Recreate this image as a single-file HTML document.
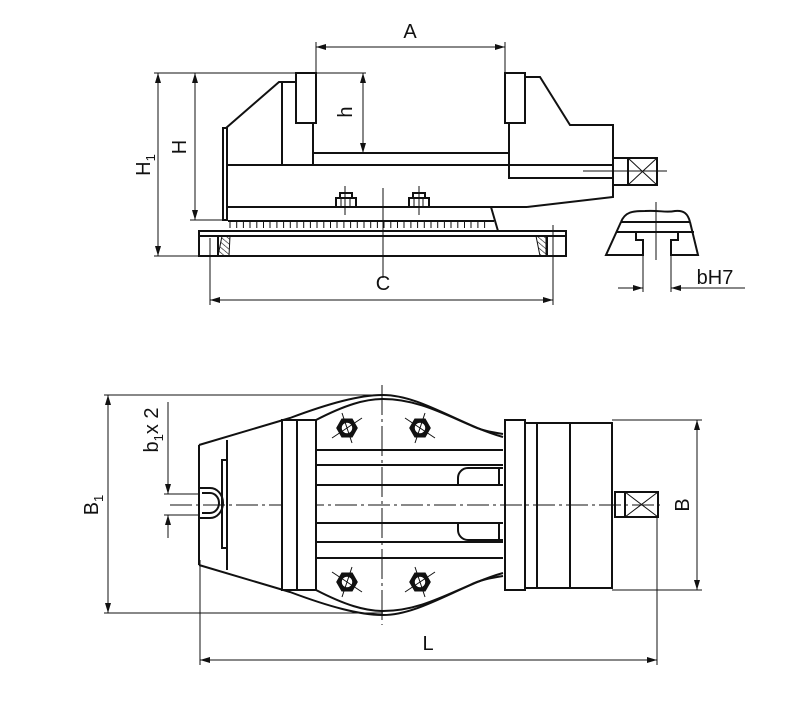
<!DOCTYPE html>
<html><head><meta charset="utf-8"><style>
html,body{margin:0;padding:0;background:#fff;}
svg{display:block;}
text{font-family:"Liberation Sans",sans-serif;fill:#111;}
</style></head><body>
<svg width="800" height="710" viewBox="0 0 800 710" xmlns="http://www.w3.org/2000/svg">
<defs>
<marker id="ar" viewBox="0 0 10 6" refX="10" refY="3" markerWidth="10" markerHeight="6" orient="auto-start-reverse" markerUnits="userSpaceOnUse">
<path d="M0,0 L10,3 L0,6 z" fill="#111"/></marker>
<pattern id="hat" width="4" height="4" patternUnits="userSpaceOnUse" patternTransform="rotate(-50)">
<line x1="0" y1="0" x2="0" y2="4" stroke="#111" stroke-width="1.2"/></pattern>
</defs>
<g stroke="#111" fill="none">
<g stroke-width="1">
<line x1="316" y1="42" x2="316" y2="78"/><line x1="505" y1="42" x2="505" y2="78"/>
<line x1="316" y1="47" x2="505" y2="47" marker-start="url(#ar)" marker-end="url(#ar)"/>
<line x1="154" y1="73" x2="366" y2="73"/>
<line x1="158" y1="73" x2="158" y2="256" marker-start="url(#ar)" marker-end="url(#ar)"/>
<line x1="154" y1="256" x2="200" y2="256"/>
<line x1="195" y1="73" x2="195" y2="220" marker-start="url(#ar)" marker-end="url(#ar)"/>
<line x1="190" y1="220" x2="228" y2="220"/>
<line x1="363" y1="73" x2="363" y2="153" marker-start="url(#ar)" marker-end="url(#ar)"/>
<line x1="210" y1="238" x2="210" y2="305"/><line x1="553" y1="225" x2="553" y2="305"/>
<line x1="210" y1="300" x2="553" y2="300" marker-start="url(#ar)" marker-end="url(#ar)"/>
<line x1="383" y1="188" x2="383" y2="278"/>
<line x1="583" y1="171" x2="667" y2="171"/>
<line x1="345" y1="186" x2="345" y2="215"/><line x1="419" y1="186" x2="419" y2="215"/>
</g>
<g stroke-width="2">
<rect x="296" y="73" width="20" height="50"/>
<rect x="505" y="73" width="20" height="50"/>
<polyline points="226,128 279,82 296,82"/>
<line x1="282" y1="82" x2="282" y2="165"/>
<rect x="223" y="128" width="4" height="92"/>
<line x1="313" y1="123" x2="313" y2="165"/>
<line x1="313" y1="153" x2="509" y2="153"/>
<line x1="227" y1="165" x2="613" y2="165"/>
<polyline points="525,77 540,77 570,125 613,125 613,197 527,207"/>
<polyline points="509,123 509,178 613,178"/>
<rect x="613" y="158" width="44" height="27"/>
<rect x="628" y="158" width="29" height="27"/>
<line x1="227" y1="207" x2="527" y2="207"/>
<polyline points="491,207 498,231"/>
<line x1="228" y1="221" x2="494" y2="221"/>
<rect x="199" y="231" width="367" height="25"/>
<line x1="199" y1="236" x2="566" y2="236"/>
<rect x="199" y="236" width="19" height="20"/>
<rect x="547" y="236" width="19" height="20"/>
<rect x="336" y="198" width="20" height="9"/><rect x="340" y="193" width="12" height="5"/>
<rect x="409" y="198" width="20" height="9"/><rect x="413" y="193" width="12" height="5"/>
</g>
<g stroke-width="1">
<line x1="341" y1="198" x2="341" y2="207"/><line x1="345" y1="198" x2="345" y2="207"/><line x1="350" y1="198" x2="350" y2="207"/>
<line x1="414" y1="198" x2="414" y2="207"/><line x1="419" y1="198" x2="419" y2="207"/><line x1="423" y1="198" x2="423" y2="207"/>
<path d="M230,222 V228 M236.7,222 V228 M243.4,222 V228 M250,222 V228 M256.8,222 V228 M263.5,222 V228 M270,222 V228 M276.9,222 V228 M283.6,222 V228 M290.3,222 V228 M297,222 V228 M303.7,222 V228 M310.4,222 V228 M317,222 V228 M323.8,222 V228 M330.5,222 V228 M337,222 V228 M343.9,222 V228 M350.6,222 V228 M357.3,222 V228 M364,222 V228 M370.7,222 V228 M377.4,222 V228 M384,222 V228 M390.8,222 V228 M397.5,222 V228 M404,222 V228 M410.9,222 V228 M417.6,222 V228 M424.3,222 V228 M431,222 V228 M437.7,222 V228 M444.4,222 V228 M451,222 V228 M457.8,222 V228 M464.5,222 V228 M471,222 V228 M477.9,222 V228 M484.6,222 V228"/>
</g>
<path d="M222,236 L230,236 L229,256 L218,256 Z" fill="url(#hat)" stroke="#111" stroke-width="1"/>
<path d="M536,236 L546,236 L546,256 L540,256 Z" fill="url(#hat)" stroke="#111" stroke-width="1"/>
<!-- detail -->
<g stroke-width="2">
<path d="M621,222 C625,212 632,211 645,211 C660,210 665,213 675,211 C684,210 688,214 690,222"/>
<line x1="621" y1="222" x2="690" y2="222"/>
<path d="M621,222 L606,255 H643 V240 H636 V232 H678 V240 H671 V255 H698 L690,222"/>
<line x1="617" y1="232" x2="636" y2="232"/><line x1="678" y1="232" x2="694" y2="232"/>
</g>
<g stroke-width="1">
<line x1="656" y1="202" x2="656" y2="260"/>
<line x1="643" y1="255" x2="643" y2="292"/><line x1="671" y1="255" x2="671" y2="292"/>
<line x1="618" y1="288" x2="643" y2="288" marker-end="url(#ar)"/>
<line x1="745" y1="288" x2="671" y2="288" marker-end="url(#ar)"/>
</g>

<!-- plan view -->
<g stroke-width="1">
<line x1="104" y1="395" x2="383" y2="395"/>
<line x1="104" y1="613" x2="383" y2="613"/>
<line x1="108" y1="395" x2="108" y2="613" marker-start="url(#ar)" marker-end="url(#ar)"/>
<line x1="168" y1="402" x2="168" y2="494" marker-end="url(#ar)"/>
<line x1="168" y1="538" x2="168" y2="515" marker-end="url(#ar)"/>
<line x1="164" y1="494" x2="200" y2="494"/><line x1="164" y1="515" x2="200" y2="515"/>
<line x1="170" y1="505" x2="660" y2="505" stroke-dasharray="22,4,3,4"/>
<line x1="382" y1="385" x2="382" y2="625" stroke-dasharray="30,4,3,4"/>
<line x1="612" y1="420" x2="702" y2="420"/><line x1="612" y1="590" x2="702" y2="590"/>
<line x1="697" y1="420" x2="697" y2="590" marker-start="url(#ar)" marker-end="url(#ar)"/>
<line x1="200" y1="560" x2="200" y2="665"/><line x1="657" y1="517" x2="657" y2="665"/>
<line x1="200" y1="660" x2="657" y2="660" marker-start="url(#ar)" marker-end="url(#ar)"/>
</g>
<g stroke-width="2">
<path d="M199,445 L290,418 C330,403 360,395 383,395 C420,395 460,425 503,437"/>
<path d="M316,420 C345,405 365,399 383,399 C415,399 440,412 470,425 C480,430 490,432 503,434"/>
<path d="M199,565 L290,592 C330,607 360,615 383,615 C420,615 460,585 503,573"/>
<path d="M316,590 C345,605 365,611 383,611 C415,611 440,598 470,585 C480,580 490,578 503,576"/>
<line x1="199" y1="445" x2="199" y2="565"/>
<line x1="227" y1="440" x2="227" y2="570"/>
<rect x="222" y="460" width="5" height="88"/>
<path d="M199,488 H210 A13,15 0 0 1 210,518 H199"/>
<path d="M202,493 H210 A9,10 0 0 1 210,513 H202"/>
<rect x="282" y="420" width="15" height="170" fill="#fff"/>
<rect x="297" y="420" width="19" height="170" fill="#fff"/>
<path d="M316,450 H503 M316,465 H503 M316,485 H503 M316,523 H503 M316,542 H503 M316,558 H503"/>
<path d="M503,468 H468 A10,10 0 0 0 458,478 V485"/>
<path d="M503,540 H468 A10,10 0 0 1 458,530 V523"/>
<line x1="499" y1="468" x2="499" y2="485"/><line x1="499" y1="523" x2="499" y2="540"/>
<rect x="505" y="420" width="20" height="170"/>
<rect x="525" y="423" width="87" height="165"/>
<line x1="537" y1="423" x2="537" y2="588"/>
<line x1="570" y1="423" x2="570" y2="588"/>
<rect x="615" y="492" width="43" height="25"/>
<rect x="625" y="492" width="33" height="25"/>
</g>
<g stroke-width="1">
<path d="M628,158 L657,185 M657,158 L628,185"/>
<path d="M625,492 L658,517 M658,492 L625,517"/>
</g>
<g stroke-width="1.5">
<g transform="translate(347,428)"><polygon points="10,0 5,8.7 -5,8.7 -10,0 -5,-8.7 5,-8.7" fill="#111"/><circle r="4.5" fill="#fff" stroke="#fff"/><path d="M-15,10 L15,-10 M-5,-15 L5,15" stroke-width="1"/></g>
<g transform="translate(420,428)"><polygon points="10,0 5,8.7 -5,8.7 -10,0 -5,-8.7 5,-8.7" fill="#111"/><circle r="4.5" fill="#fff" stroke="#fff"/><path d="M-15,-10 L15,10 M5,-15 L-5,15" stroke-width="1"/></g>
<g transform="translate(347,582)"><polygon points="10,0 5,8.7 -5,8.7 -10,0 -5,-8.7 5,-8.7" fill="#111"/><circle r="4.5" fill="#fff" stroke="#fff"/><path d="M-15,-10 L15,10 M5,-15 L-5,15" stroke-width="1"/></g>
<g transform="translate(420,582)"><polygon points="10,0 5,8.7 -5,8.7 -10,0 -5,-8.7 5,-8.7" fill="#111"/><circle r="4.5" fill="#fff" stroke="#fff"/><path d="M-15,10 L15,-10 M-5,-15 L5,15" stroke-width="1"/></g>
</g>
</g>
<g font-size="20">
<text x="410" y="38" text-anchor="middle">A</text>
<text x="383" y="290" text-anchor="middle">C</text>
<text x="428" y="650" text-anchor="middle">L</text>
<text x="715" y="284" text-anchor="middle">bH7</text>
<text transform="translate(150,165) rotate(-90)" text-anchor="middle">H<tspan font-size="13" dy="5">1</tspan></text>
<text transform="translate(186,147) rotate(-90)" text-anchor="middle">H</text>
<text transform="translate(352,112) rotate(-90)" text-anchor="middle">h</text>
<text transform="translate(98,505) rotate(-90)" text-anchor="middle">B<tspan font-size="13" dy="5">1</tspan></text>
<text transform="translate(158,430) rotate(-90)" text-anchor="middle">b<tspan font-size="13" dy="5">1</tspan><tspan dy="-5">x 2</tspan></text>
<text transform="translate(689,505) rotate(-90)" text-anchor="middle">B</text>
</g>
</svg>
</body></html>
